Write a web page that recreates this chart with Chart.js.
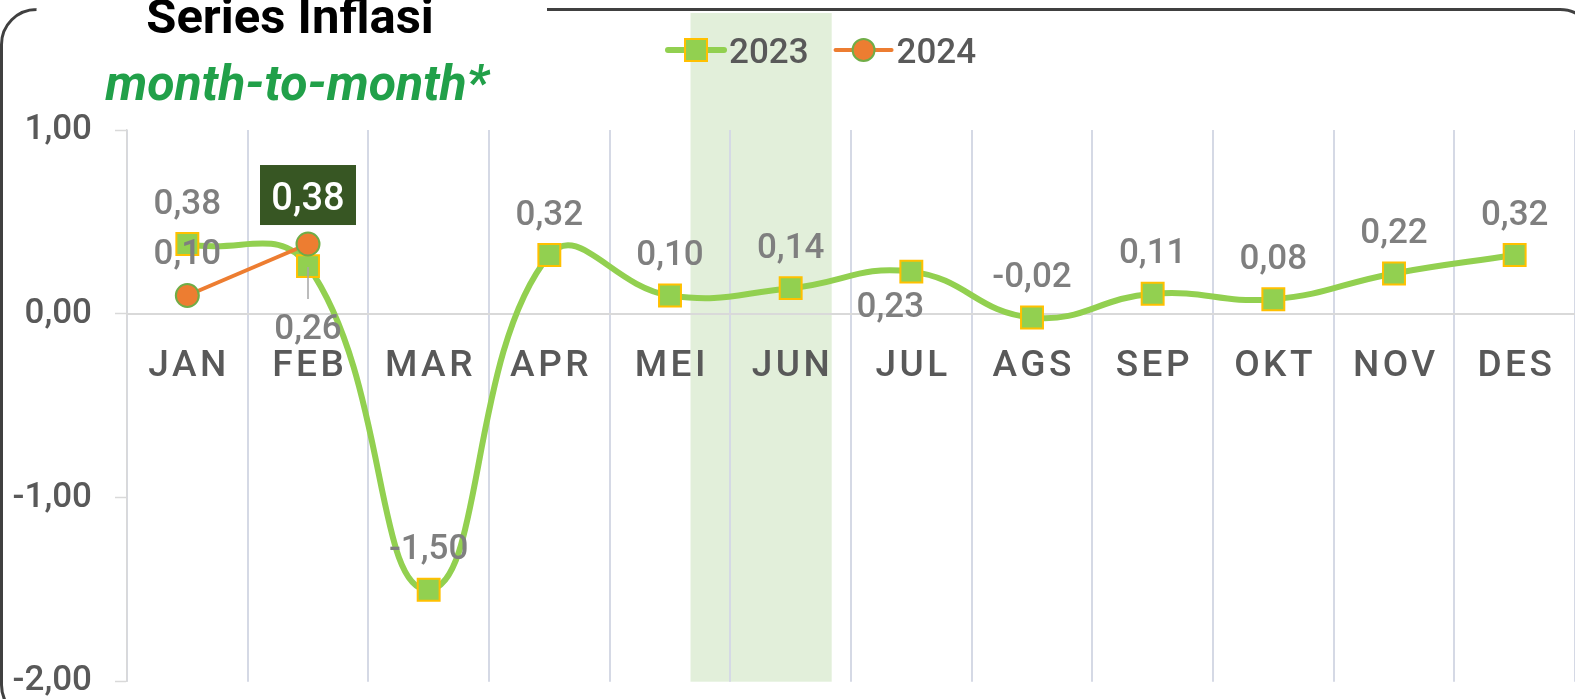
<!DOCTYPE html>
<html><head><meta charset="utf-8">
<script src="https://cdn.jsdelivr.net/npm/chart.js@4.4.1/dist/chart.umd.min.js"></script>
<style>
html,body{margin:0;padding:0;background:#fff;overflow:hidden;}
#wrap{position:relative;width:1575px;height:699px;}
canvas{display:block;}
</style></head><body>
<div id="wrap"><canvas id="c" width="1575" height="699"></canvas></div>
<script>
// ---- data ----
const months = ['JAN','FEB','MAR','APR','MEI','JUN','JUL','AGS','SEP','OKT','NOV','DES'];
const values2023 = [0.38, 0.26, -1.50, 0.32, 0.10, 0.14, 0.23, -0.02, 0.11, 0.08, 0.22, 0.32];
const values2024 = [0.10, 0.38, null, null, null, null, null, null, null, null, null, null];
const seriesNames = ['2023', '2024'];
const yMin = -2, yMax = 1, yStep = 1;
const titleText = 'Series Inflasi';
const subtitleText = 'month-to-month*';
const highlightFrom = 4.17, highlightTo = 5.34; // category-index span of the shaded band

const fmt = v => (v < 0 ? '-' : '') + Math.abs(v).toFixed(2).replace('.', ',');

// label placement tweaks (style, not data)
const labelTweaks = {
  0: { 1: { dx: 0, dy: 73, leader: [1, 33] }, 6: { dx: -21, dy: 45 } },
  1: { 0: { dy: -32 }, 1: { box: true, dy: -34 } }
};

const bandPlugin = {
  id: 'band',
  beforeDraw(chart) {
    const { ctx, chartArea, scales } = chart;
    const x1 = scales.x.getPixelForValue(highlightFrom);
    const x2 = scales.x.getPixelForValue(highlightTo);
    ctx.save();
    ctx.fillStyle = '#e2efda';
    ctx.fillRect(x1, 13, x2 - x1, chartArea.bottom - 13);
    ctx.restore();
    const s = scales.x;
    if (!s._lsPatched) {
      const orig = s.drawLabels;
      s.drawLabels = function (area) {
        const c = this.ctx; c.save(); c.letterSpacing = '3.5px'; c.translate(1.75, 0);
        orig.call(this, area); c.restore();
      };
      s._lsPatched = true;
    }
  }
};

const labelPlugin = {
  id: 'dlabels',
  afterDatasetsDraw(chart) {
    const ctx = chart.ctx;
    chart.data.datasets.forEach((ds, di) => {
      const meta = chart.getDatasetMeta(di);
      meta.data.forEach((pt, i) => {
        const v = ds.data[i];
        if (v === null || v === undefined) return;
        const t = (labelTweaks[di] && labelTweaks[di][i]) || {};
        const txt = fmt(v);
        const x = pt.x + (t.dx || 0);
        const base = pt.y + (t.dy !== undefined ? t.dy : -30.5);
        ctx.save();
        if (t.leader) {
          ctx.strokeStyle = '#a6a6a6'; ctx.lineWidth = 1.5;
          ctx.beginPath(); ctx.moveTo(pt.x, pt.y + t.leader[0]); ctx.lineTo(pt.x, pt.y + t.leader[1]); ctx.stroke();
        }
        ctx.textAlign = 'center'; ctx.textBaseline = 'alphabetic';
        if (t.box) {
          ctx.fillStyle = '#375623';
          ctx.fillRect(x - 48, base - 45, 96, 60);
          ctx.font = '500 38px Roboto';
          ctx.fillStyle = '#ffffff';
          ctx.fillText(txt, x, base);
        } else {
          ctx.font = '500 35px Roboto';
          ctx.fillStyle = '#7f7f7f';
          ctx.fillText(txt, x, base);
        }
        ctx.restore();
      });
    });
  }
};

const decorPlugin = {
  id: 'decor',
  afterDraw(chart) {
    const ctx = chart.ctx;
    ctx.save();
    // frame
    ctx.strokeStyle = '#404040'; ctx.lineWidth = 3;
    ctx.beginPath();
    ctx.moveTo(36, 9.5);
    ctx.arcTo(1.5, 9.5, 1.5, 44.5, 35);
    ctx.lineTo(1.5, 685);
    ctx.arcTo(1.5, 720, 36.5, 720, 35);
    ctx.stroke();
    ctx.beginPath();
    ctx.moveTo(547, 9.5);
    ctx.lineTo(1560, 9.5);
    ctx.arcTo(1595, 9.5, 1595, 44.5, 35);
    ctx.stroke();
    // title
    ctx.textAlign = 'center'; ctx.textBaseline = 'alphabetic';
    ctx.fillStyle = '#000000';
    ctx.font = 'bold 49px Roboto';
    ctx.fillText(titleText, 290, 32.5);
    ctx.fillStyle = '#21a049';
    ctx.font = 'italic bold 50px Roboto';
    ctx.fillText(subtitleText, 297, 100);
    // legend
    const ds = chart.data.datasets;
    let x = 668; const y = 50;
    ctx.font = '500 35px Roboto';
    ctx.textAlign = 'left';
    ds.forEach((d) => {
      ctx.strokeStyle = d.borderColor; ctx.lineWidth = d.borderWidth; ctx.lineCap = 'round';
      ctx.beginPath(); ctx.moveTo(x, y); ctx.lineTo(x + 56, y); ctx.stroke();
      ctx.fillStyle = d.pointBackgroundColor; ctx.strokeStyle = d.pointBorderColor; ctx.lineWidth = d.pointBorderWidth;
      if (d.pointStyle === 'rect') {
        ctx.fillRect(x + 17, y - 11, 22, 22); ctx.strokeRect(x + 17, y - 11, 22, 22);
      } else {
        ctx.beginPath(); ctx.arc(x + 28, y, 11, 0, Math.PI * 2); ctx.fill(); ctx.stroke();
      }
      ctx.fillStyle = '#595959';
      ctx.fillText(d.label, x + 61, y + 13);
      x += 61 + ctx.measureText(d.label).width + 27;
    });
    ctx.restore();
  }
};

new Chart(document.getElementById('c'), {
  type: 'line',
  data: {
    labels: months,
    datasets: [
      {
        label: seriesNames[0], data: values2023, order: 1,
        borderColor: '#92d050', borderWidth: 6, tension: 0.45,
        pointStyle: 'rect', pointRadius: 15.5, pointHoverRadius: 15.5,
        pointBackgroundColor: '#92d050', pointBorderColor: '#ffc000', pointBorderWidth: 2,
        clip: false
      },
      {
        label: seriesNames[1], data: values2024, order: 0,
        borderColor: '#ed7d31', borderWidth: 4, tension: 0,
        pointStyle: 'circle', pointRadius: 11.5, pointHoverRadius: 11.5,
        pointBackgroundColor: '#ed7d31', pointBorderColor: '#70ad47', pointBorderWidth: 2,
        clip: false
      }
    ]
  },
  options: {
    responsive: false, animation: false, devicePixelRatio: 1,
    layout: { autoPadding: false, padding: { top: 130, bottom: 17.3, left: 0, right: 0 } },
    plugins: { legend: { display: false }, tooltip: { enabled: false }, title: { display: false } },
    scales: {
      x: {
        type: 'category', axis: 'x', position: { y: 0 }, offset: true,
        grid: { offset: true, color: '#d5d9e5', lineWidth: 2, drawTicks: false },
        border: { display: true, color: '#d9d9d9', width: 2 },
        ticks: { font: { family: 'Roboto', size: 37, weight: '500' }, color: '#595959', padding: 31, autoSkip: false, maxRotation: 0 },
        afterFit(s) { s.paddingLeft = 0; s.paddingRight = 0; }
      },
      y: {
        min: yMin, max: yMax,
        ticks: { stepSize: yStep, callback: v => fmt(v), font: { family: 'Roboto', size: 35, weight: '500', lineHeight: 0.9 }, color: '#595959', padding: 23 },
        grid: { drawOnChartArea: false, drawTicks: true, tickLength: 12, tickColor: '#d9d9d9', tickWidth: 1.5, color: '#d9d9d9' },
        border: { color: '#d9d9d9', width: 1.5 },
        afterFit(s) { s.width = 127; s.paddingTop = 0; s.paddingBottom = 0; }
      }
    }
  },
  plugins: [bandPlugin, labelPlugin, decorPlugin]
});
</script>
</body></html>
